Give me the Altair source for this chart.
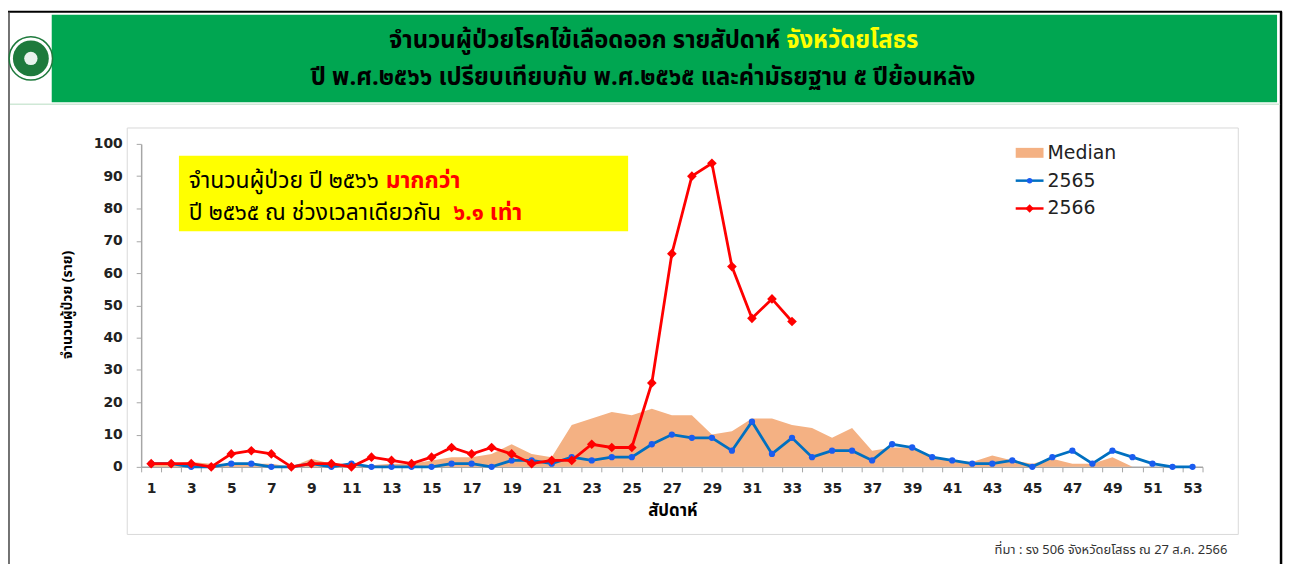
import altair as alt
import pandas as pd

weeks = list(range(1, 54))
median = [1, 1, 1.5, 1, 1, 1, 1, 0, 2.5, 1, 1, 0.5, 1, 1, 2, 3, 3, 4, 7, 4,
          3, 13, 15, 17, 16, 18, 16, 16, 10, 11, 15, 15, 13, 12, 9, 12, 5, 6, 6, 3,
          2, 1.5, 3.5, 2, 1, 2.5, 1, 1, 3, 0, 0, 0, 0]
y2565 = [1, 1, 0, 0, 1, 1, 0, 0, 1, 0, 1, 0, 0, 0, 0, 1, 1, 0, 2, 2,
         1, 3, 2, 3, 3, 7, 10, 9, 9, 5, 14, 4, 9, 3, 5, 5, 2, 7, 6, 3,
         2, 1, 1, 2, 0, 3, 5, 1, 5, 3, 1, 0, 0]
y2566 = [1, 1, 1, 0, 4, 5, 4, 0, 1, 1, 0, 3, 2, 1, 3, 6, 4, 6, 4, 1,
         2, 2, 7, 6, 6, 26, 66, 90, 94, 62, 46, 52, 45]
y_ticks = list(range(0, 101, 10))

title1a = "จำนวนผู้ป่วยโรคไข้เลือดออก รายสัปดาห์"
title1b = "จังหวัดยโสธร"
title2 = "ปี พ.ศ.๒๕๖๖ เปรียบเทียบกับ พ.ศ.๒๕๖๕ และค่ามัธยฐาน ๕ ปีย้อนหลัง"
box1a = "จำนวนผู้ป่วย ปี ๒๕๖๖"
box1b = "มากกว่า"
box2a = "ปี ๒๕๖๕ ณ ช่วงเวลาเดียวกัน"
box2b = "๖.๑ เท่า"
y_title = "จำนวนผู้ป่วย (ราย)"
x_title = "สัปดาห์"
source = "ที่มา : รง 506 จังหวัดยโสธร  ณ 27 ส.ค. 2566"
legend_names = ["Median", "2565", "2566"]

W, H = 1068, 325
step = W / 53
THAI = "Tahoma, 'Noto Sans Thai', 'Noto Sans Thai UI', Loma, Garuda, 'Noto Sans', sans-serif"
NUM = "'DejaVu Sans', Verdana, sans-serif"

df_med = pd.DataFrame({"week": weeks, "value": median})
df65 = pd.DataFrame({"week": weeks, "value": y2565})
df66 = pd.DataFrame({"week": weeks[:len(y2566)], "value": y2566})
one = pd.DataFrame({"k": [0]})

label_expr = ("((datum.value + 0.5) % 2 == 1 && datum.value < 53) ? "
              "format(datum.value + 0.5, 'd') : ''")
X = alt.X("week:Q",
          scale=alt.Scale(domain=[0.5, 53.5], nice=False, zero=False),
          axis=alt.Axis(values=[i + 0.5 for i in range(54)], labelExpr=label_expr,
                        labelOffset=step / 2, labelOverlap=False, labelFlush=False,
                        title=None, grid=False, tickSize=5, tickColor="#a6a6a6",
                        domainColor="#a6a6a6", domainWidth=1.5,
                        labelFont=NUM, labelFontSize=14, labelFontWeight="bold",
                        labelColor="#222222", labelPadding=10))
Y = alt.Y("value:Q",
          scale=alt.Scale(domain=[0, 100], nice=False),
          axis=alt.Axis(values=y_ticks, title=None, grid=False, tickSize=5,
                        tickColor="#a6a6a6", domainColor="#a6a6a6", domainWidth=1.5,
                        labelFont=NUM, labelFontSize=14, labelFontWeight="bold",
                        labelColor="#222222", labelPadding=14))

def rect(x1, x2, y1, y2, fill=None, stroke=None, sw=1):
    kw = {}
    if fill is not None:
        kw["fill"] = fill
    else:
        kw["fillOpacity"] = 0
    if stroke is not None:
        kw["stroke"] = stroke
        kw["strokeWidth"] = sw
    return alt.Chart(one).mark_rect(**kw).encode(
        x=alt.value(x1), x2=alt.value(x2), y=alt.value(y1), y2=alt.value(y2))

def text(t, x, y, size, color="#000000", weight="normal", align="left", font=THAI, angle=0):
    kw = dict(text=t, fontSize=size, color=color, fontWeight=weight, align=align,
              baseline="middle", font=font)
    if angle:
        kw["angle"] = angle
    return alt.Chart(one).mark_text(**kw).encode(x=alt.value(x), y=alt.value(y))

def sym(x, y, shape, size, fill, stroke=None, sw=0, opacity=1):
    kw = dict(shape=shape, size=size, fill=fill, filled=True, opacity=opacity)
    if stroke is not None:
        kw.update(stroke=stroke, strokeWidth=sw)
    return alt.Chart(one).mark_point(**kw).encode(x=alt.value(x), y=alt.value(y))

def hline(x1, x2, y, color, sw):
    return alt.Chart(one).mark_rule(color=color, strokeWidth=sw).encode(
        x=alt.value(x1), x2=alt.value(x2), y=alt.value(y))

def vline(x, y1, y2, color, sw):
    return alt.Chart(one).mark_rule(color=color, strokeWidth=sw).encode(
        x=alt.value(x), y=alt.value(y1), y2=alt.value(y2))

# decorations (pixel positions relative to plot area)
frame = [
    hline(-140, 1148, -133, "#000000", 2),
    vline(-133, -133, 430, "#444444", 1.5),
    vline(1147, -133, 430, "#000000", 2.5),
    rect(-90, 1143, -130, -42, fill="#00A651"),
    hline(-132, 1146, -40, "#cfe8d6", 1.5),
    rect(-14, 1104, -16, 393, stroke="#d9d9d9", sw=1),
]
logo = [
    sym(-111, -86, "circle", 1900, "#ffffff", stroke="#1e7a3c", sw=1.5),
    sym(-111, -86, "circle", 1300, "#1e7a3c"),
    sym(-111, -86, "circle", 180, "#ffffff", opacity=0.9),
]
titles = [
    text(title1a, 643, -103, 24, weight="bold", align="right"),
    text(title1b, 649, -103, 24, color="#FFFF00", weight="bold", align="left"),
    text(title2, 505, -66, 24, weight="bold", align="center"),
]
box = [
    rect(38, 490, 12, 88, fill="#FFFF00"),
    text(box1a, 48, 37, 23),
    text(box1b, 246, 37, 23, color="#FF0000", weight="bold"),
    text(box2a, 48, 70, 23),
    text(box2b, 314, 70, 23, color="#FF0000", weight="bold"),
]
legend = [
    rect(880, 908, 4, 14, fill="#F4B183"),
    text(legend_names[0], 912, 9, 19, color="#222222", font=NUM),
    hline(880, 908, 37, "#0070C0", 2.5),
    sym(894, 37, "circle", 30, "#1a5cf0"),
    text(legend_names[1], 912, 37, 19, color="#222222", font=NUM),
    hline(880, 908, 65, "#FF0000", 2.5),
    sym(894, 65, "diamond", 70, "#FF0000"),
    text(legend_names[2], 912, 65, 19, color="#222222", font=NUM),
]
labels = [
    text(y_title, -74, 162, 14, weight="bold", align="center", angle=270),
    text(x_title, 535, 369, 17, weight="bold", align="center"),
    text(source, 1093, 409, 13, color="#333333", align="right"),
]

area = alt.Chart(df_med).mark_area(color="#F4B183", opacity=1).encode(x=X, y=Y)
line65 = alt.Chart(df65).mark_line(color="#0070C0", strokeWidth=2.8).encode(x=X, y=Y)
pts65 = alt.Chart(df65).mark_point(shape="circle", filled=True, color="#1a5cf0",
                                   size=40, opacity=1).encode(x=X, y=Y)
line66 = alt.Chart(df66).mark_line(color="#FF0000", strokeWidth=2.8).encode(x=X, y=Y)
pts66 = alt.Chart(df66).mark_point(shape="diamond", filled=True, color="#FF0000",
                                   size=95, opacity=1).encode(x=X, y=Y)

chart = alt.layer(
    *frame, *logo, *titles, area, line65, pts65, line66, pts66, *box, *legend, *labels
).properties(
    width=W, height=H,
    autosize=alt.AutoSizeParams(type="none"),
    padding={"left": 134, "top": 135, "right": 86, "bottom": 96},
    background="#ffffff",
).configure_view(stroke=None)

chart.save("out.html", embed_options={"renderer": "svg", "actions": False})
